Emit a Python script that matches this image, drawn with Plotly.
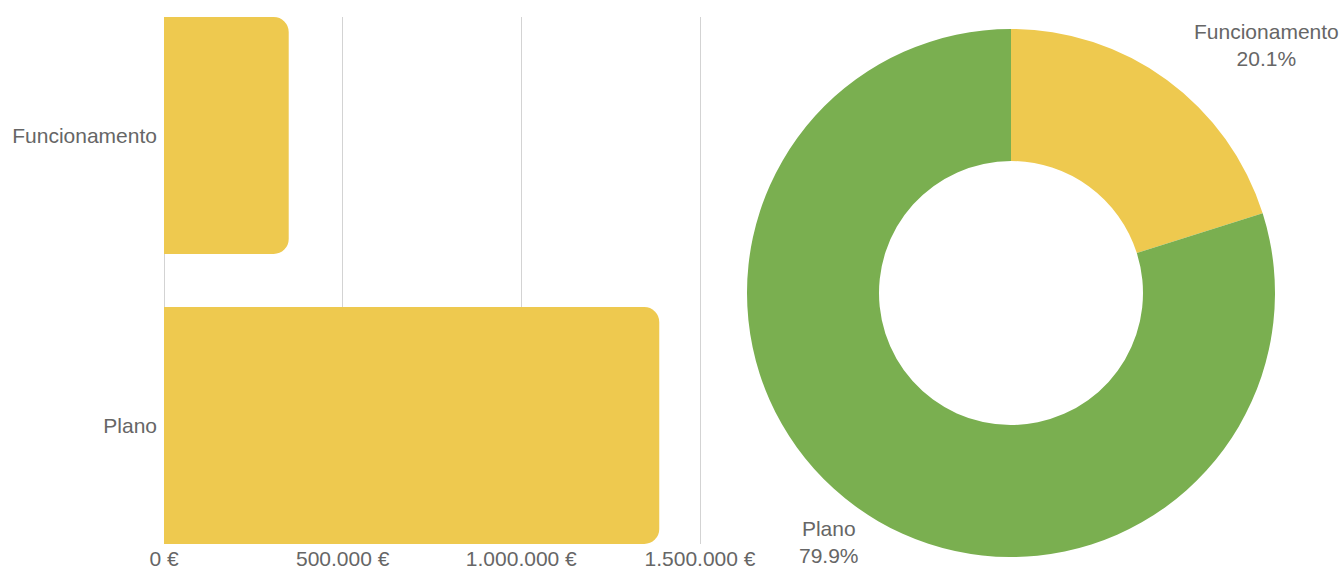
import plotly.graph_objects as go

categories = ["Funcionamento", "Plano"]
values = [349000, 1386000]
pie_pct_labels = ["20.1%", "79.9%"]
x_ticks = [0, 500000, 1000000, 1500000]
x_tick_labels = ["0 €", "500,000 €", "1,000,000 €", "1,500,000 €"]

YELLOW = "#EEC94F"
GREEN = "#7AAF50"
TXT = "#666666"
FONT = "Liberation Sans, Arial, sans-serif"
FS = 21
W, H = 1343, 566

# x scale: 0 at px 164, 1.5M at px 700; extend domain slightly so the last gridline shows
x_right_px = 703
x_max = 1500000 * (x_right_px - 164) / (700 - 164)

fig = go.Figure()
fig.add_trace(go.Bar(
    y=categories, x=values, orientation="h",
    marker=dict(color=YELLOW, line=dict(width=0)),
    hoverinfo="x+y", showlegend=False,
))
fig.add_trace(go.Pie(
    labels=categories, values=values,
    marker=dict(colors=[YELLOW, GREEN], line=dict(width=0)),
    hole=0.5, sort=False, direction="clockwise", rotation=0,
    textinfo="none", showlegend=False,
    domain=dict(x=[(1011 - 264) / W, (1011 + 264) / W],
                y=[(H - 293 - 264) / H, (H - 293 + 264) / H]),
))

# outside pie labels
ann_pos = [(1266, 45), (829, 542)]
for (px, py), cat, pct in zip(ann_pos, categories, pie_pct_labels):
    fig.add_annotation(
        x=px / W, y=1 - py / H, xref="paper", yref="paper",
        text=f"{cat}<br>{pct}", showarrow=False,
        font=dict(family=FONT, size=FS, color=TXT),
        xanchor="center", yanchor="middle", align="center",
    )

fig.update_layout(
    width=W, height=H,
    margin=dict(l=0, r=0, t=0, b=0),
    paper_bgcolor="white", plot_bgcolor="white",
    font=dict(family=FONT, size=FS, color=TXT),
    bargap=0.183,
    barcornerradius=15,
    xaxis=dict(
        domain=[164 / W, x_right_px / W], range=[0, x_max],
        tickvals=x_ticks, ticktext=x_tick_labels,
        showgrid=True, gridcolor="#d3d3d3", gridwidth=1,
        zeroline=True, zerolinecolor="#d3d3d3", zerolinewidth=1,
        showline=False, ticks="", automargin=False,
        tickfont=dict(family=FONT, size=FS, color=TXT),
        fixedrange=True,
    ),
    yaxis=dict(
        domain=[(H - 544) / H, (H - 17) / H],
        categoryorder="array", categoryarray=["Plano", "Funcionamento"],
        range=[-0.4086, 1.4086],
        showgrid=False, zeroline=False, showline=False, ticks="",
        ticklabelstandoff=6, automargin=False,
        tickfont=dict(family=FONT, size=FS, color=TXT),
        fixedrange=True,
    ),
)

fig.write_html("out.html")
